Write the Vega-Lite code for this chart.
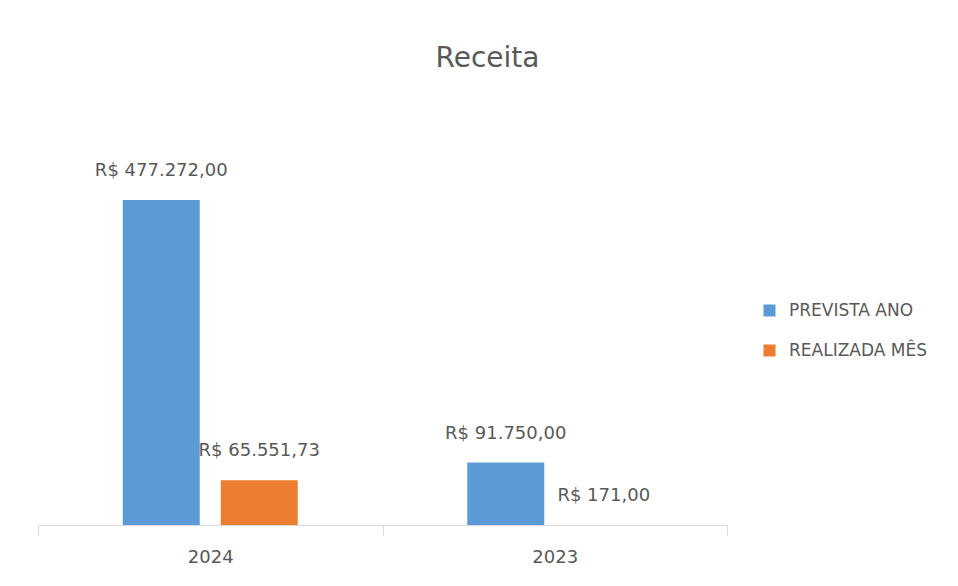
{
  "$schema": "https://vega.github.io/schema/vega-lite/v6.json",
  "autosize": {"type": "none"},
  "padding": {"left": 38, "top": 100, "right": 231, "bottom": 61},
  "width": 689,
  "height": 425,
  "background": "#ffffff",
  "title": {
    "text": "Receita",
    "anchor": "middle",
    "dx": 105,
    "offset": 5,
    "baseline": "alphabetic",
    "font": "DejaVu Sans",
    "fontSize": 28,
    "fontWeight": "normal",
    "color": "#595959"
  },
  "config": {
    "view": {"stroke": null},
    "font": "DejaVu Sans"
  },
  "data": {
    "values": [
      {"ano": "2024", "serie": "PREVISTA ANO", "valor": 477272.00, "rotulo": "R$ 477.272,00"},
      {"ano": "2024", "serie": "REALIZADA MÊS", "valor": 65551.73, "rotulo": "R$ 65.551,73"},
      {"ano": "2023", "serie": "PREVISTA ANO", "valor": 91750.00, "rotulo": "R$ 91.750,00"},
      {"ano": "2023", "serie": "REALIZADA MÊS", "valor": 171.00, "rotulo": "R$ 171,00"}
    ]
  },
  "encoding": {
    "x": {
      "field": "ano",
      "type": "nominal",
      "sort": ["2024", "2023"],
      "scale": {"paddingInner": 0, "paddingOuter": 0},
      "axis": {
        "title": null,
        "labelAngle": 0,
        "tickBand": "extent",
        "domainColor": "#D9D9D9",
        "tickColor": "#D9D9D9",
        "tickSize": 10,
        "labelPadding": 13,
        "labelFontSize": 18,
        "labelColor": "#595959",
        "labelFont": "DejaVu Sans"
      }
    },
    "xOffset": {
      "field": "serie",
      "type": "nominal",
      "scale": {"paddingInner": 0.2143, "paddingOuter": 0.8648}
    },
    "y": {
      "field": "valor",
      "type": "quantitative",
      "scale": {"domain": [0, 624125], "nice": false},
      "axis": null
    }
  },
  "layer": [
    {
      "mark": {"type": "bar"},
      "encoding": {
        "color": {
          "field": "serie",
          "type": "nominal",
          "scale": {"domain": ["PREVISTA ANO", "REALIZADA MÊS"], "range": ["#5B9BD5", "#ED7D31"]},
          "legend": {
            "title": null,
            "orient": "none",
            "legendX": 723,
            "legendY": 202,
            "symbolType": "square",
            "symbolSize": 144,
            "symbolStrokeWidth": 0,
            "labelFontSize": 17,
            "labelFont": "DejaVu Sans",
            "labelColor": "#595959",
            "labelOffset": 11,
            "rowPadding": 22
          }
        }
      }
    },
    {
      "mark": {"type": "text", "dy": -29, "baseline": "middle", "fontSize": 18, "font": "DejaVu Sans", "color": "#595959"},
      "encoding": {
        "text": {"field": "rotulo"}
      }
    }
  ]
}
